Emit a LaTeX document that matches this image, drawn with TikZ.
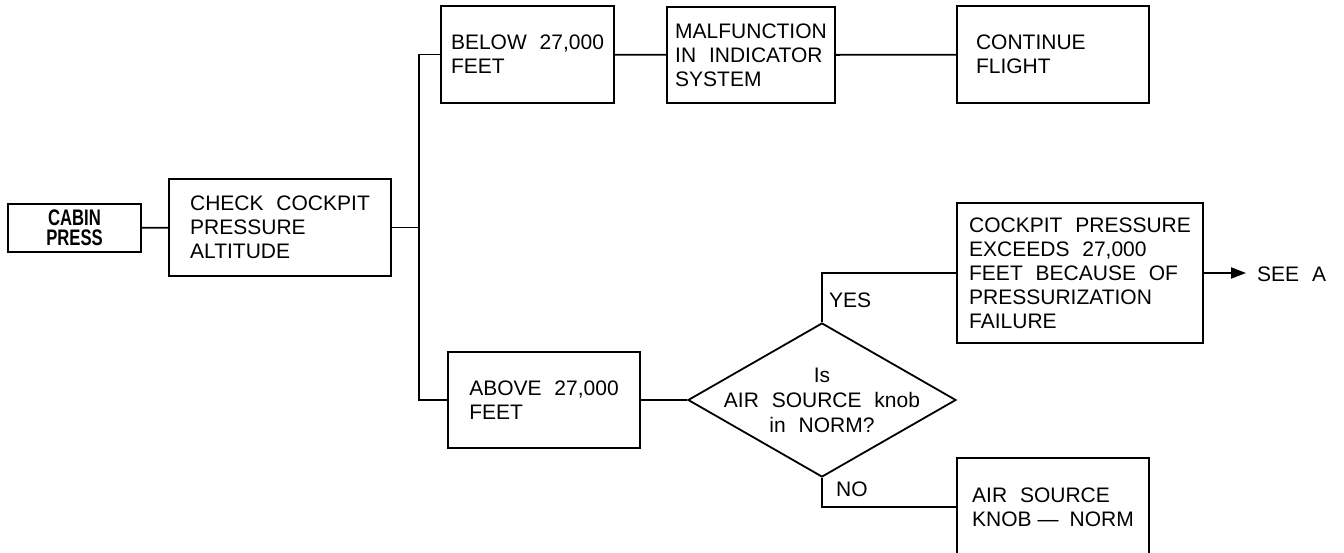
\documentclass[tikz,border=0pt]{standalone}
\usepackage{fontspec}
\setmainfont{Liberation Sans}[WordSpace=2.2]
\newfontfamily\condfont{Liberation Sans}[FakeStretch=0.74]
\usetikzlibrary{shapes.geometric,arrows.meta}

\begin{document}
\begin{tikzpicture}[x=1pt,y=-1pt,
  blk/.style={draw, line width=1.8pt, align=left, minimum height=97pt, font=\fontsize{21}{24}\selectfont},
  dec/.style={draw, diamond, line width=1.8pt, minimum width=268pt, minimum height=154pt, inner sep=0pt},
  lbl/.style={font=\fontsize{21}{24}\selectfont},
  link/.style={line width=1.8pt}]

\useasboundingbox (0,0) rectangle (1344,553);

% Start
\node[draw, line width=1.2pt, minimum width=133pt, minimum height=48pt, align=center,
  font=\condfont\bfseries\fontsize{22.5}{20.5}\selectfont] (cabin) at (74.5,228) {CABIN\\PRESS};
\node[blk, minimum width=222pt] (check) at (280,227.5) {CHECK COCKPIT\\PRESSURE\\ALTITUDE};
\coordinate (jn) at (419,227.5);

% Below branch
\node[blk, minimum width=173pt] (below) at (527.5,54.5) {BELOW 27,000\\FEET};
\node[blk, minimum width=168pt, minimum height=96pt] (malf) at (751,55) {MALFUNCTION\\IN INDICATOR\\SYSTEM};
\node[blk, minimum width=192pt, text width=154pt] (cont) at (1053,54.5) {CONTINUE\\FLIGHT};

% Above branch
\node[blk, minimum width=192pt, minimum height=96pt] (above) at (544,400) {ABOVE 27,000\\FEET};
\node[dec] (q) at (822,400) {};
\node[lbl, align=center, font=\fontsize{21}{25}\selectfont] (qtext) at (q.center) {Is\\AIR SOURCE knob\\in NORM?};
\node[blk, minimum width=246pt, minimum height=140pt] (fail) at (1080,273) {COCKPIT PRESSURE\\EXCEEDS 27,000\\FEET BECAUSE OF\\PRESSURIZATION\\FAILURE};
\node[blk, minimum width=192pt, minimum height=98pt] (air) at (1053,507) {AIR SOURCE\\KNOB\hspace{6pt}---\hspace{11pt}NORM};
\node[lbl, anchor=west, inner sep=0pt] (yes) at (829,300) {YES};
\node[lbl, anchor=west, inner sep=0pt] (no) at (836,489) {NO};
\node[lbl, anchor=west, inner sep=0pt] (seea) at (1257,274) {SEE A};

% Connectors
\draw[link] (cabin) -- (check);
\draw[link] (check) -- (jn);
\draw[link] (below.west) -| (jn) |- (above.west);
\draw[link] (below) -- (malf);
\draw[link] (malf) -- (cont);
\draw[link] (above) -- (q);
\draw[link] (q.north) |- (fail.west);
\draw[link] (q.south) |- (air.west);
\draw[link, -{Triangle[length=15pt,width=11pt]}] (fail.east) -- ([xshift=-11pt]fail.east -| seea.west);

\end{tikzpicture}
\end{document}
